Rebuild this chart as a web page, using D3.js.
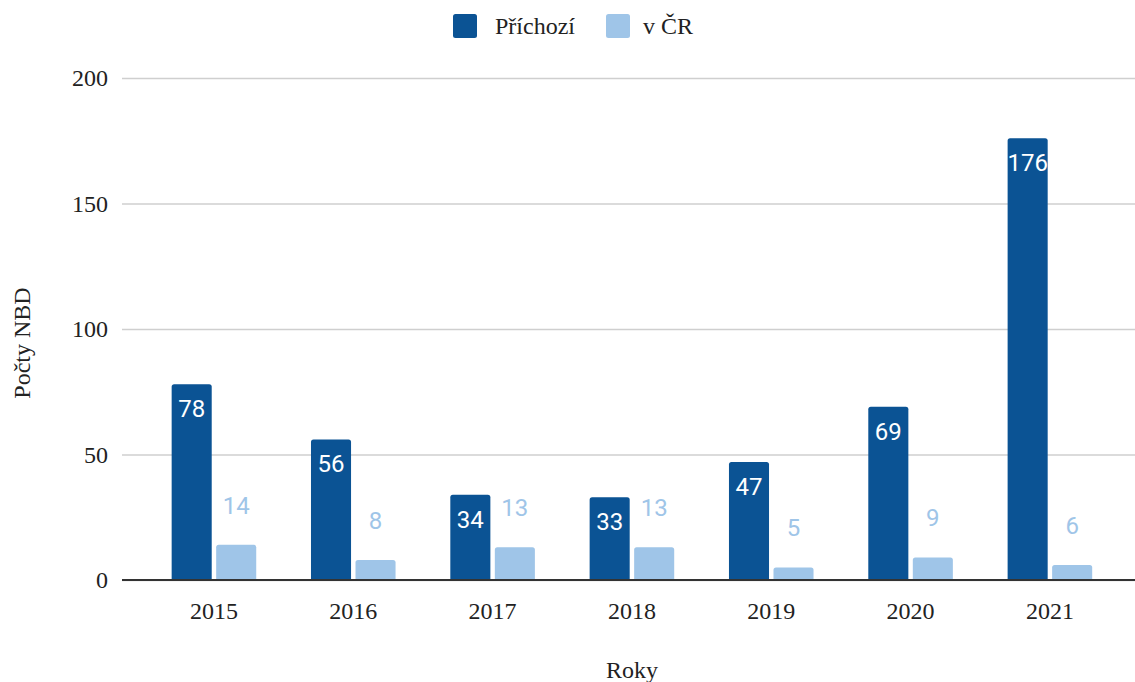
<!DOCTYPE html>
<html>
<head>
<meta charset="utf-8">
<script src="https://cdn.jsdelivr.net/npm/d3@7"></script>
<style>
  body { margin: 0; background: #fff; }
  .serif { font-family: "Liberation Serif", "DejaVu Serif", serif; }
  .lbl { font-family: Roboto, "Noto Sans", sans-serif; }
</style>
</head>
<body>
<div id="chart"></div>
<script>
(function() {

  // data
  var years = ["2015", "2016", "2017", "2018", "2019", "2020", "2021"];
  var prichozi = [78, 56, 34, 33, 47, 69, 176];
  var vCR = [14, 8, 13, 13, 5, 9, 6];
  var seriesNames = ["Příchozí", "v ČR"];
  var yTicks = [0, 50, 100, 150, 200];

  var colors = ["#0b5394", "#9fc5e8"];

  var width = 1135, height = 682;

  var svg = d3.select("#chart").append("svg")
      .attr("width", width)
      .attr("height", height);

  var y = d3.scaleLinear().domain([0, 200]).range([580, 78]);

  var x0 = d3.scaleBand().domain(years)
      .range([144.35, 1119.5])
      .paddingInner(0.393)
      .paddingOuter(0.196);

  var x1 = d3.scaleBand().domain([0, 1])
      .range([0, x0.bandwidth()])
      .paddingInner(0.1);

  // gridlines
  var yAxis = d3.axisLeft(y).tickValues(yTicks).tickSize(-(1135 - 122)).tickPadding(14);
  var ga = svg.append("g").attr("transform", "translate(122,0)").call(yAxis);
  ga.select(".domain").remove();
  ga.selectAll(".tick line").attr("stroke", "#cfcfcf").attr("stroke-width", 1.4);
  ga.selectAll(".tick text")
      .attr("class", "serif")
      .attr("font-size", 24)
      .attr("fill", "#222")
      .attr("dy", "0.32em");

  // bars
  function topRounded(x, yTop, w, h, r) {
    r = Math.min(r, h);
    return "M" + x + "," + (yTop + h) +
      "V" + (yTop + r) +
      "Q" + x + "," + yTop + " " + (x + r) + "," + yTop +
      "H" + (x + w - r) +
      "Q" + (x + w) + "," + yTop + " " + (x + w) + "," + (yTop + r) +
      "V" + (yTop + h) + "Z";
  }

  var rows = years.map((yr, i) => ({year: yr, vals: [prichozi[i], vCR[i]]}));

  var grp = svg.append("g").selectAll("g")
    .data(rows).enter().append("g")
      .attr("transform", d => "translate(" + x0(d.year) + ",0)");

  grp.selectAll("path")
    .data(d => d.vals.map((v, k) => ({k: k, v: v})))
    .enter().append("path")
      .attr("d", d => topRounded(x1(d.k), y(d.v), x1.bandwidth(), y(0) - y(d.v), 2.5))
      .attr("fill", d => colors[d.k]);

  grp.selectAll("text")
    .data(d => d.vals.map((v, k) => ({k: k, v: v})))
    .enter().append("text")
      .attr("class", "lbl")
      .attr("x", d => x1(d.k) + x1.bandwidth() / 2)
      .attr("y", d => d.k === 0 ? y(d.v) + 33 : y(d.v) - 31)
      .attr("text-anchor", "middle")
      .attr("font-size", 24)
      .attr("fill", d => d.k === 0 ? "#ffffff" : colors[1])
      .text(d => d.v);

  // baseline
  svg.append("line")
      .attr("x1", 122).attr("x2", 1135)
      .attr("y1", y(0)).attr("y2", y(0))
      .attr("stroke", "#333").attr("stroke-width", 2);

  // x axis labels
  var xAxis = d3.axisBottom(x0).tickSize(0).tickPadding(22);
  var gx = svg.append("g").attr("transform", "translate(0," + y(0) + ")").call(xAxis);
  gx.select(".domain").remove();
  gx.selectAll(".tick text")
      .attr("class", "serif")
      .attr("font-size", 24)
      .attr("fill", "#222");

  // axis titles
  svg.append("text")
      .attr("class", "serif")
      .attr("x", 632).attr("y", 678)
      .attr("text-anchor", "middle")
      .attr("font-size", 24)
      .attr("fill", "#222")
      .text("Roky");

  svg.append("text")
      .attr("class", "serif")
      .attr("transform", "translate(30,343) rotate(-90)")
      .attr("text-anchor", "middle")
      .attr("font-size", 24)
      .attr("fill", "#222")
      .text("Počty NBD");

  // legend
  var legX = [453, 606];
  var leg = svg.append("g").selectAll("g")
    .data(seriesNames).enter().append("g")
      .attr("transform", (d, i) => "translate(" + legX[i] + ",14)");
  leg.append("rect")
      .attr("width", 24).attr("height", 24)
      .attr("rx", 2.5)
      .attr("fill", (d, i) => colors[i]);
  leg.append("text")
      .attr("class", "serif")
      .attr("x", (d, i) => i === 0 ? 42 : 37)
      .attr("y", 20)
      .attr("font-size", 24)
      .attr("fill", "#222")
      .text(d => d);
})();
</script>
</body>
</html>
